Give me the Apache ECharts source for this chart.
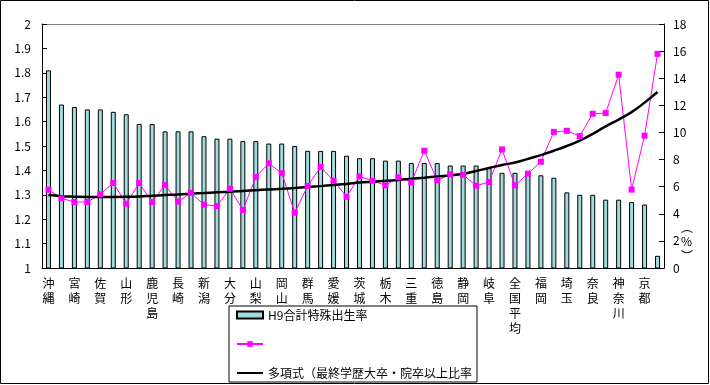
<!DOCTYPE html>
<html><head><meta charset="utf-8">
<script src="https://cdn.jsdelivr.net/npm/echarts@6/dist/echarts.min.js"></script>
<style>html,body{margin:0;padding:0;background:#fff}#c{width:710px;height:385px}</style>
</head><body><div id="c"></div>
<script>
const visibleLabels = ['沖縄','宮崎','佐賀','山形','鹿児島','長崎','新潟','大分','山梨','岡山','群馬','愛媛','茨城','栃木','三重','徳島','静岡','岐阜','全国平均','福岡','埼玉','奈良','神奈川','京都'];
const hiddenLabels = ['福島','島根','鳥取','熊本','長野','福井','岩手','滋賀','秋田','香川','青森','富山','石川','山口','鳥取県','高知','和歌山','愛知','広島','兵庫','宮城','千葉','大阪','東京'];
const birthRate = [1.81,1.67,1.66,1.65,1.65,1.64,1.63,1.59,1.59,1.56,1.56,1.56,1.54,1.53,1.53,1.52,1.52,1.51,1.51,1.50,1.48,1.48,1.48,1.46,1.45,1.45,1.44,1.44,1.43,1.43,1.43,1.42,1.42,1.42,1.41,1.39,1.39,1.39,1.38,1.37,1.31,1.30,1.30,1.28,1.28,1.27,1.26,1.05];
const collegeRate = [5.78,5.14,4.87,4.87,5.43,6.27,4.74,6.27,4.87,6.12,4.90,5.55,4.67,4.57,5.85,4.28,6.71,7.72,7.00,4.08,6.05,7.45,6.44,5.26,6.75,6.44,6.10,6.69,6.32,8.65,6.47,6.91,6.88,6.07,6.34,8.75,6.10,6.96,7.84,10.04,10.12,9.73,11.38,11.43,14.26,5.78,9.76,15.80];
const trendValues = [5.38,5.30,5.26,5.24,5.24,5.24,5.25,5.28,5.33,5.38,5.42,5.48,5.53,5.58,5.62,5.68,5.74,5.79,5.84,5.90,5.97,6.04,6.12,6.20,6.30,6.37,6.43,6.50,6.58,6.66,6.75,6.83,6.95,7.15,7.38,7.60,7.78,8.05,8.33,8.65,9.00,9.40,9.90,10.45,10.95,11.50,12.20,12.98];
const leftTicks = {min:1, max:2, interval:0.1};
const rightTicks = {min:0, max:18, interval:2};
const seriesNames = ['H9合計特殊出生率',' ','多項式（最終学歴大卒・院卒以上比率'];

const cats = [];
for (let i = 0; i < 24; i++) { cats.push(visibleLabels[i]); cats.push(hiddenLabels[i]); }

const FONT = '"Noto Sans CJK JP", sans-serif';
const chart = echarts.init(document.getElementById('c'), null, {renderer:'canvas'});
chart.setOption({
  animation: false,
  textStyle: {fontFamily: FONT},
  grid: {left: 42, right: 46, top: 24, bottom: 117, containLabel: false},
  graphic: [
    {type:'rect', shape:{x:0.5,y:0.5,width:708,height:383}, style:{fill:'none',stroke:'#000',lineWidth:1}, silent:true},
    {type:'text', left: 681, top: 220, style:{text:'︵\n%\n︶', font:'12px ' + FONT, lineHeight:14.5, fill:'#000', align:'center'}}
  ],
  legend: {
    orient: 'vertical', left: 229, top: 306,
    padding: [2, 5, 2, 7], itemGap: 15, itemWidth: 26, itemHeight: 7,
    borderColor: '#000', borderWidth: 1, backgroundColor: '#fff',
    textStyle: {fontFamily: FONT, fontSize: 12, color: '#000', lineHeight: 14},
    data: [
      {name: seriesNames[0], icon: 'rect'},
      {name: seriesNames[1]},
      {name: seriesNames[2], itemStyle: {opacity: 0}}
    ]
  },
  xAxis: [{
    type: 'category', data: cats, boundaryGap: true, position: 'bottom',
    axisLine: {lineStyle: {color: '#000', width: 1}},
    axisTick: {inside: true, length: 4, interval: 0, lineStyle: {color: '#000'}},
    axisLabel: {interval: 1, margin: 8, color: '#000', fontSize: 12, lineHeight: 15, fontFamily: FONT,
      formatter: v => v.split('').join('\n')}
  }, {
    type: 'category', data: cats, position: 'top',
    axisLine: {lineStyle: {color: '#808080', width: 1}}, axisTick: {show: false}, axisLabel: {show: false}
  }],
  yAxis: [{
    type: 'value', min: leftTicks.min, max: leftTicks.max, interval: leftTicks.interval, position: 'left',
    axisLine: {show: true, lineStyle: {color: '#000'}},
    axisTick: {show: true, inside: true, length: 5, lineStyle: {color: '#000'}},
    splitLine: {show: false},
    axisLabel: {color: '#000', fontSize: 12, margin: 11, fontFamily: FONT, formatter: v => String(+v.toFixed(1))}
  }, {
    type: 'value', min: rightTicks.min, max: rightTicks.max, interval: rightTicks.interval, position: 'right',
    axisLine: {show: true, lineStyle: {color: '#000'}},
    axisTick: {show: true, inside: true, length: 5, lineStyle: {color: '#000'}},
    splitLine: {show: false},
    axisLabel: {color: '#000', fontSize: 12, margin: 9, fontFamily: FONT}
  }],
  series: [{
    name: seriesNames[0], type: 'bar', data: birthRate, yAxisIndex: 0, xAxisIndex: 0,
    barWidth: 5, itemStyle: {color: '#a0dcdc', borderColor: '#000', borderWidth: 1}
  }, {
    name: seriesNames[1], type: 'line', data: collegeRate, yAxisIndex: 1, xAxisIndex: 0,
    symbol: 'rect', symbolSize: 6, showSymbol: true,
    lineStyle: {color: '#ff00ff', width: 1}, itemStyle: {color: '#ff00ff'}
  }, {
    name: seriesNames[2], type: 'line', data: trendValues, yAxisIndex: 1, xAxisIndex: 0,
    symbol: 'none', smooth: true, lineStyle: {color: '#000', width: 2.5}, itemStyle: {color: '#000'}
  }]
});
</script></body></html>
